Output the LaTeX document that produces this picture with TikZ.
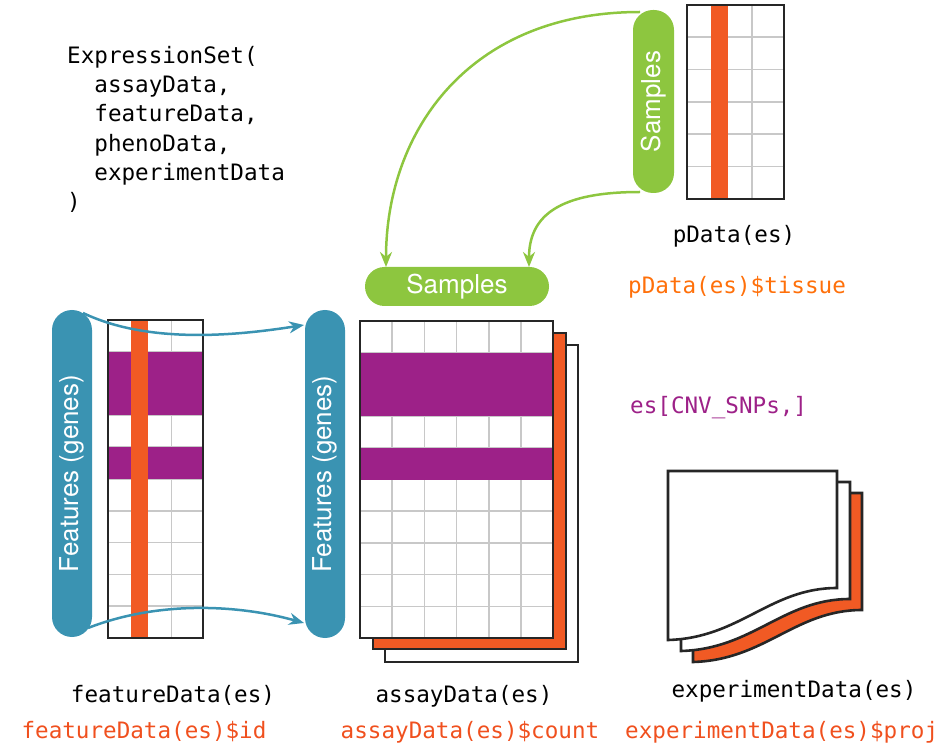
\documentclass[tikz,border=0pt]{standalone}
\usepackage{fontspec}
\setmonofont{DejaVu Sans Mono}
\setsansfont{TeX Gyre Heros}
\usetikzlibrary{arrows.meta}
\definecolor{esteal}{HTML}{3A93B2}
\definecolor{esgreen}{HTML}{8DC63F}
\definecolor{esorange}{HTML}{F15A24}
\definecolor{eslabel}{HTML}{F0501E}
\definecolor{estissue}{HTML}{FF700A}
\definecolor{espurple}{HTML}{9D2188}
\definecolor{esgray}{HTML}{C8C8C8}
\tikzset{
  code/.style={font=\ttfamily\fontsize{22.6}{29.3}\selectfont, inner sep=0pt},
  pill/.style={rounded corners=20pt, inner sep=0pt, text=white,
    font=\sffamily\fontsize{26}{26}\selectfont},
  gridline/.style={draw=esgray, line width=1.6pt},
  frame/.style={draw=black!85, line width=2.6pt},
  link/.style={line width=2.5pt, -{Stealth[length=15pt,width=12pt]}},
}
\begin{document}
\begin{tikzpicture}[x=1pt, y=-1pt]
  \useasboundingbox (0,0) rectangle (946,751);
  % constructor call
  \node[code, anchor=north west, align=left] (esCall) at (67,46)
    {ExpressionSet(\\\phantom{xx}assayData,\\\phantom{xx}featureData,\\\phantom{xx}phenoData,\\\phantom{xx}experimentData\\)};

  % pData table
  \fill[white] (687,5) rectangle (784,199);
  \foreach \x in {719.3,751.7} \draw[gridline] (\x,5) -- (\x,199);
  \foreach \y in {37.3,69.7,102,134.3,166.7} \draw[gridline] (687,\y) -- (784,\y);
  \fill[esorange] (711,5) rectangle (728,199);
  \draw[frame] (687,5) rectangle (784,199);

  % samples
  \coordinate (sTop) at (640,12);
  \coordinate (sBot) at (640,192);
  \coordinate (sInA) at (386,267);
  \coordinate (sInB) at (529,267);
  \draw[esgreen, link] (sTop) .. controls (470,12) and (386,130) .. (sInA);
  \draw[esgreen, link] (sBot) .. controls (560,192) and (529,215) .. (sInB);
  \node[pill, fill=esgreen, rotate=90, minimum width=183pt, minimum height=41pt] (sampV) at (653.5,101.5) {Samples};
  \node[pill, fill=esgreen, rounded corners=19.5pt, minimum width=184pt, minimum height=39pt] (sampH) at (457,286.5) {Samples};

  % featureData table
  \fill[white] (108,320) rectangle (203,638);
  \foreach \x in {139.7,171.3} \draw[gridline] (\x,320) -- (\x,638);
  \foreach \y in {351.8,383.6,415.4,447.2,479,510.8,542.6,574.4,606.2} \draw[gridline] (108,\y) -- (203,\y);
  \fill[espurple] (108,351.8) rectangle (203,415.4);
  \fill[espurple] (108,447.2) rectangle (203,479);
  \fill[esorange] (131,320) rectangle (148,638);
  \draw[frame] (108,320) rectangle (203,638);

  % assayData stack
  \draw[frame, fill=white] (385,345) rectangle (578,662);
  \draw[frame, fill=esorange] (373,333) rectangle (566,649);
  \fill[white] (360,321) rectangle (553,638);
  \foreach \x in {392.2,424.3,456.5,488.7,520.8} \draw[gridline] (\x,321) -- (\x,638);
  \foreach \y in {352.7,384.4,416.1,447.8,479.5,511.2,542.9,574.6,606.3} \draw[gridline] (360,\y) -- (553,\y);
  \fill[espurple] (360,352.7) rectangle (553,416.1);
  \fill[espurple] (360,447.8) rectangle (553,479.5);
  \draw[frame] (360,321) rectangle (553,638);

  % features
  \node[pill, fill=esteal, rotate=90, minimum width=327pt, minimum height=40pt] (featL) at (72,473.5) {Features (genes)};
  \node[pill, fill=esteal, rotate=90, minimum width=328pt, minimum height=40pt] (featR) at (325,474) {Features (genes)};
  \coordinate (fTopA) at (83,313);
  \coordinate (fTopB) at (304,325);
  \coordinate (fBotA) at (88,628);
  \coordinate (fBotB) at (304,623);
  \draw[esteal, link] (fTopA) .. controls (150,345) and (240,335) .. (fTopB);
  \draw[esteal, link] (fBotA) .. controls (160,600) and (240,605) .. (fBotB);

  % experimentData pages
  \draw[frame, fill=esorange, shift={(25,22)}]
    (668,471) -- (837,471) -- (837,588) .. controls (770,588) and (740,638) .. (668,640) -- cycle;
  \draw[frame, fill=white, shift={(13,11)}]
    (668,471) -- (837,471) -- (837,588) .. controls (770,588) and (740,638) .. (668,640) -- cycle;
  \draw[frame, fill=white]
    (668,471) -- (837,471) -- (837,588) .. controls (770,588) and (740,638) .. (668,640) -- cycle;

  % accessors
  \node[code, anchor=base] (pdLab) at (734,243) {pData(es)};
  \node[code, anchor=base west, text=estissue] (pdCol) at (628,294) {pData(es)\$tissue};
  \node[code, anchor=base west, text=espurple] (subset) at (630,414) {es[CNV\_SNPs,]};
  \node[code, anchor=base] (fdLab) at (173,702) {featureData(es)};
  \node[code, anchor=base, text=eslabel] (fdCol) at (144,738) {featureData(es)\$id};
  \node[code, anchor=base] (adLab) at (464,702) {assayData(es)};
  \node[code, anchor=base, text=eslabel] (adCol) at (470,738) {assayData(es)\$count};
  \node[code, anchor=base] (edLab) at (794,697) {experimentData(es)};
  \node[code, anchor=base west, text=eslabel] (edCol) at (625,738) {experimentData(es)\$proj};
\end{tikzpicture}
\end{document}
